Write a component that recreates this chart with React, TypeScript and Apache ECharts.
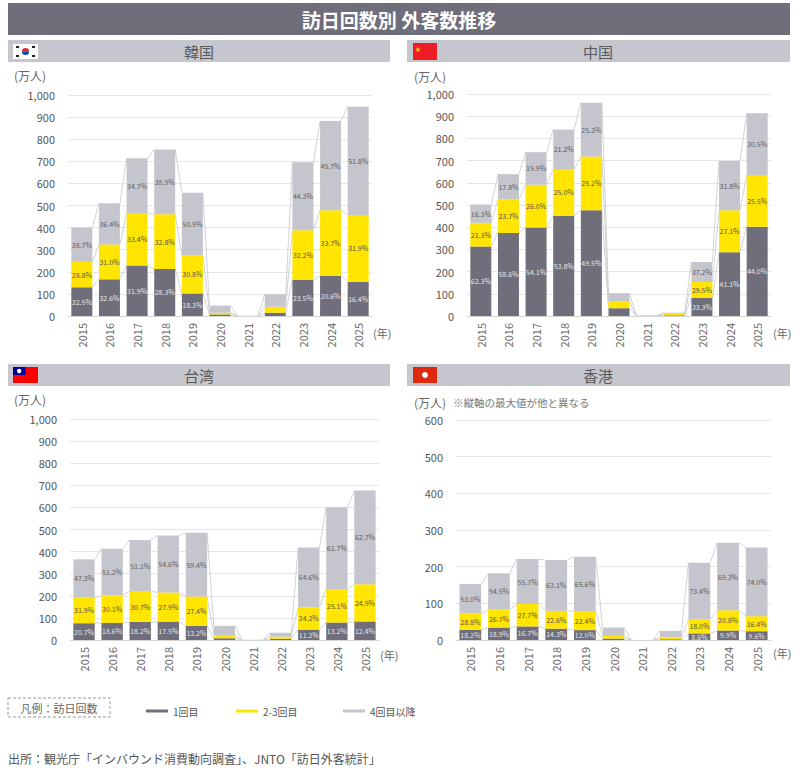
import React, { useEffect, useRef } from 'react';
import * as echarts from 'echarts';

const years = ['2015', '2016', '2017', '2018', '2019', '2020', '2021', '2022', '2023', '2024', '2025'];
const seriesNames = ['1回目', '2-3回目', '4回目以降'];

// 韓国（万人）
const kr1 = [130, 166, 228, 213, 102, 7, 0, 15, 164, 182, 155];
const kr23 = [115, 158, 238, 247, 172, 8, 0, 27, 224, 297, 302];
const kr4 = [155, 186, 248, 293, 284, 32, 1, 56, 308, 403, 490];
const krP1 = [32.5, 32.6, 31.9, 28.3, 18.3, null, null, null, 23.5, 20.6, 16.4];
const krP23 = [28.8, 31.0, 33.4, 32.8, 30.8, null, null, null, 32.2, 33.7, 31.9];
const krP4 = [38.7, 36.4, 34.7, 38.9, 50.9, null, null, null, 44.3, 45.7, 51.8];

// 中国
const cn1 = [313, 374, 399, 452, 476, 35, 1, 3, 81, 287, 402];
const cn23 = [107, 151, 192, 210, 242, 30, 0, 8, 72, 189, 233];
const cn4 = [82, 114, 147, 178, 243, 38, 0, 4, 90, 222, 278];
const cnP1 = [62.3, 58.6, 54.1, 53.8, 49.5, null, null, null, 33.3, 41.1, 44.0];
const cnP23 = [21.3, 23.7, 26.0, 25.0, 25.2, null, null, null, 29.5, 27.1, 25.5];
const cnP4 = [16.3, 17.8, 19.9, 21.2, 25.3, null, null, null, 37.2, 31.8, 30.5];

// 台湾
const tw1 = [76, 77, 82, 83, 64, 8, 0, 5, 47, 79, 84];
const tw23 = [116, 124, 139, 132, 133, 14, 0, 10, 101, 151, 168];
const tw4 = [173, 212, 232, 258, 288, 42, 1, 18, 270, 371, 424];
const twP1 = [20.7, 18.6, 18.2, 17.5, 13.2, null, null, null, 11.2, 13.2, 12.4];
const twP23 = [31.9, 30.1, 30.7, 27.9, 27.4, null, null, null, 24.2, 25.1, 24.9];
const twP4 = [47.3, 51.2, 51.1, 54.6, 59.4, null, null, null, 64.6, 61.7, 62.7];

// 香港
const hk1 = [28, 34, 37, 31, 27, 4, 0, 2, 18, 26, 24];
const hk23 = [44, 49, 61, 49, 51, 7, 0, 5, 38, 55, 41];
const hk4 = [81, 99, 123, 138, 149, 23, 0, 18, 155, 184, 187];
const hkP1 = [18.2, 18.9, 16.7, 14.3, 12.0, null, null, null, 8.6, 9.9, 9.6];
const hkP23 = [28.8, 26.7, 27.7, 22.6, 22.4, null, null, null, 18.0, 20.8, 16.4];
const hkP4 = [53.0, 54.5, 55.7, 63.1, 65.6, null, null, null, 73.4, 69.3, 74.0];

const COLORS = ['#6f6e7a', '#ffe500', '#c5c5cd'];
const LABEL_COLORS = ['#e6e6ea', '#555555', '#606060'];
const FONT = "'Noto Sans CJK JP', sans-serif";

const panels = [
  { grid: { left: 68, top: 95, width: 304, height: 221 }, max: 1000, values: [kr1, kr23, kr4], pcts: [krP1, krP23, krP4] },
  { grid: { left: 467, top: 94, width: 304, height: 222 }, max: 1000, values: [cn1, cn23, cn4], pcts: [cnP1, cnP23, cnP4] },
  { grid: { left: 70, top: 419, width: 309, height: 221 }, max: 1000, values: [tw1, tw23, tw4], pcts: [twP1, twP23, twP4] },
  { grid: { left: 456, top: 420, width: 315, height: 220 }, max: 600, values: [hk1, hk23, hk4], pcts: [hkP1, hkP23, hkP4] },
];

// 凡例の各項目の左端
const legendLefts = [141, 231, 338];

function connectorItem(params: any, api: any) {
  const x = api.value(0);
  const p1 = api.coord([x, api.value(1)]);
  const p2 = api.coord([x + 1, api.value(2)]);
  const half = api.size([1, 0])[0] * 0.38;
  return {
    type: 'line',
    shape: { x1: p1[0] + half, y1: p1[1], x2: p2[0] - half, y2: p2[1] },
    style: { stroke: '#c8c8c8', lineWidth: 0.8 },
  };
}

function headerText(x: number, y: number, text: string) {
  return { type: 'text', x, y, style: { text, fill: '#5a5a5a', font: `15px ${FONT}`, align: 'center', verticalAlign: 'middle' } };
}

function smallText(x: number, y: number, text: string, size = 11, fill = '#666') {
  return { type: 'text', x, y, style: { text, fill, font: `${size}px ${FONT}`, verticalAlign: 'middle' } };
}

export default function App() {
  const chartRef = useRef<HTMLDivElement>(null);

  useEffect(() => {
    document.body.style.margin = '0';
    if (!chartRef.current) return;
    const chart = echarts.init(chartRef.current, null, { renderer: 'svg' });

    const grids: any[] = [];
    const xAxes: any[] = [];
    const yAxes: any[] = [];
    const series: any[] = [];

    panels.forEach((panel, gi) => {
      grids.push({ ...panel.grid, containLabel: false });
      xAxes.push({
        type: 'category',
        gridIndex: gi,
        data: years,
        axisTick: { show: false },
        axisLine: { lineStyle: { color: '#d4d4d4' } },
        axisLabel: { rotate: 90, interval: 0, margin: 7, fontSize: 11, color: '#666', fontFamily: FONT },
      });
      yAxes.push({
        type: 'value',
        gridIndex: gi,
        min: 0,
        max: panel.max,
        interval: 100,
        axisLine: { show: false },
        axisTick: { show: false },
        splitLine: { lineStyle: { color: '#e6e6e6' } },
        axisLabel: {
          margin: 13,
          fontSize: 11,
          color: '#555',
          fontFamily: FONT,
          formatter: (v: number) => v.toLocaleString('en-US'),
        },
      });

      panel.values.forEach((vals, si) => {
        const pct = panel.pcts[si];
        series.push({
          name: seriesNames[si],
          type: 'bar',
          stack: 'total' + gi,
          xAxisIndex: gi,
          yAxisIndex: gi,
          barWidth: '76%',
          data: vals,
          itemStyle: { color: COLORS[si] },
          label: {
            show: true,
            position: 'inside',
            fontSize: 7,
            fontFamily: FONT,
            color: LABEL_COLORS[si],
            formatter: (p: any) => (pct[p.dataIndex] == null ? '' : `${(pct[p.dataIndex] as number).toFixed(1)}%`),
          },
          emphasis: { disabled: true },
          z: 2,
        });
      });

      // Excel風の区分線（各積み上げの上端をつなぐ）
      const levels: number[][] = [];
      let acc = years.map(() => 0);
      panel.values.forEach((vals) => {
        acc = acc.map((a, i) => a + vals[i]);
        levels.push(acc);
      });
      levels.forEach((lv) => {
        series.push({
          type: 'custom',
          xAxisIndex: gi,
          yAxisIndex: gi,
          silent: true,
          z: 1,
          renderItem: connectorItem,
          encode: { x: 0, y: [1, 2] },
          data: years.slice(0, -1).map((_, i) => [i, lv[i], lv[i + 1]]),
        });
      });
    });

    const graphic: any[] = [
      // タイトル
      { type: 'rect', shape: { x: 8, y: 3, width: 782, height: 32 }, style: { fill: '#6e6d79' } },
      { type: 'text', x: 399, y: 19, style: { text: '訪日回数別 外客数推移', fill: '#ffffff', font: `bold 19px ${FONT}`, align: 'center', verticalAlign: 'middle' } },
      // 見出し
      { type: 'rect', shape: { x: 8, y: 40, width: 382, height: 22 }, style: { fill: '#c6c6ce' } },
      { type: 'rect', shape: { x: 407, y: 40, width: 383, height: 22 }, style: { fill: '#c6c6ce' } },
      { type: 'rect', shape: { x: 8, y: 364, width: 382, height: 22 }, style: { fill: '#c6c6ce' } },
      { type: 'rect', shape: { x: 407, y: 364, width: 383, height: 22 }, style: { fill: '#c6c6ce' } },
      headerText(199, 51, '韓国'),
      headerText(598, 51, '中国'),
      headerText(199, 375, '台湾'),
      headerText(598, 375, '香港'),
      // 韓国旗
      { type: 'rect', shape: { x: 13, y: 44, width: 25, height: 15 }, style: { fill: '#ffffff' } },
      { type: 'sector', shape: { cx: 25.5, cy: 51.5, r: 3.6, startAngle: Math.PI, endAngle: Math.PI * 2 }, style: { fill: '#cd2e3a' } },
      { type: 'sector', shape: { cx: 25.5, cy: 51.5, r: 3.6, startAngle: 0, endAngle: Math.PI }, style: { fill: '#0047a0' } },
      { type: 'rect', shape: { x: 16, y: 46, width: 3, height: 2 }, style: { fill: '#222' } },
      { type: 'rect', shape: { x: 32, y: 46, width: 3, height: 2 }, style: { fill: '#222' } },
      { type: 'rect', shape: { x: 16, y: 55, width: 3, height: 2 }, style: { fill: '#222' } },
      { type: 'rect', shape: { x: 32, y: 55, width: 3, height: 2 }, style: { fill: '#222' } },
      // 中国旗
      { type: 'rect', shape: { x: 413, y: 43, width: 24, height: 17 }, style: { fill: '#ee1c25' } },
      { type: 'text', x: 415, y: 48, style: { text: '★', fill: '#ffde00', font: `6px ${FONT}`, verticalAlign: 'middle' } },
      // 台湾旗
      { type: 'rect', shape: { x: 13, y: 367, width: 25, height: 16 }, style: { fill: '#fe0000' } },
      { type: 'rect', shape: { x: 13, y: 367, width: 12.5, height: 8 }, style: { fill: '#000095' } },
      { type: 'circle', shape: { cx: 19.2, cy: 371, r: 2.2 }, style: { fill: '#ffffff' } },
      // 香港旗
      { type: 'rect', shape: { x: 413, y: 367, width: 24, height: 16 }, style: { fill: '#de2910' } },
      { type: 'circle', shape: { cx: 425, cy: 375, r: 3 }, style: { fill: '#ffffff' } },
      // 単位
      smallText(14, 75, '(万人)', 12),
      smallText(414, 76, '(万人)', 12),
      smallText(14, 399, '(万人)', 12),
      smallText(414, 402, '(万人)', 12),
      smallText(453, 402, '※縦軸の最大値が他と異なる', 10.5, '#777'),
      smallText(373, 333, '(年)', 11),
      smallText(773, 333, '(年)', 11),
      smallText(380, 655, '(年)', 11),
      smallText(773, 653, '(年)', 11),
      // 凡例の枠
      { type: 'rect', shape: { x: 8, y: 698, width: 102, height: 19 }, style: { fill: 'none', stroke: '#999', lineWidth: 1, lineDash: [3, 2] } },
      { type: 'text', x: 59, y: 707.5, style: { text: '凡例：訪日回数', fill: '#666', font: `11px ${FONT}`, align: 'center', verticalAlign: 'middle' } },
      // 出所
      smallText(8, 758, '出所：観光庁「インバウンド消費動向調査」、JNTO「訪日外客統計」', 12, '#555'),
    ];

    chart.setOption({
      animation: false,
      textStyle: { fontFamily: FONT },
      legend: seriesNames.map((name, i) => ({
        data: [name],
        left: legendLefts[i],
        top: 701,
        icon: 'rect',
        itemWidth: 22,
        itemHeight: 3,
        textStyle: { fontSize: 10, color: '#555', fontFamily: FONT },
        selectedMode: false,
      })),
      grid: grids,
      xAxis: xAxes,
      yAxis: yAxes,
      series,
      graphic,
    });

    return () => {
      chart.dispose();
    };
  }, []);

  return <div ref={chartRef} style={{ width: '810px', height: '773px' }} />;
}
